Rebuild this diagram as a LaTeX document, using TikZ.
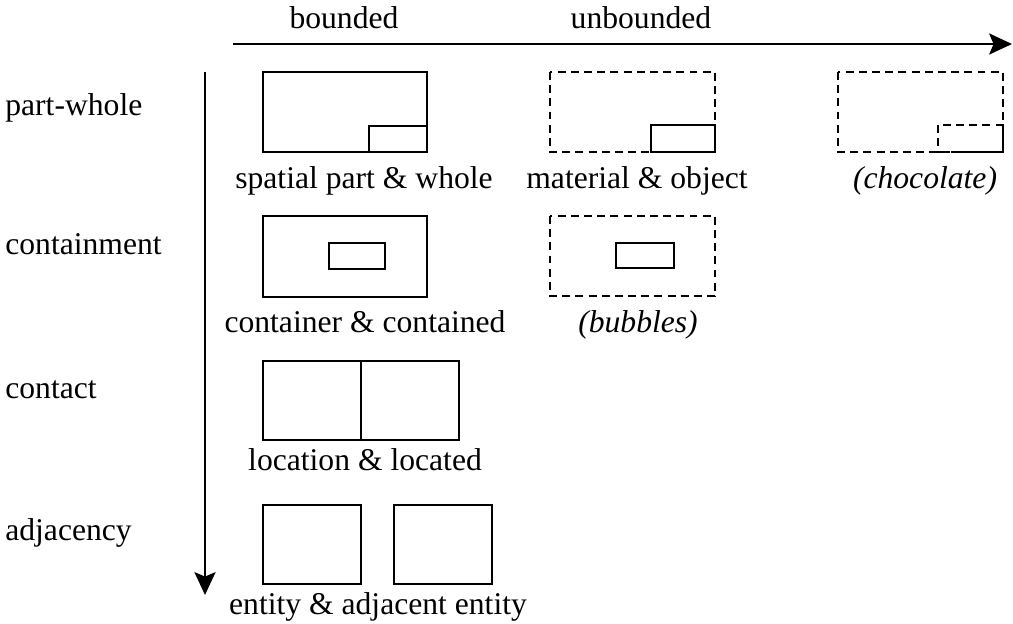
\documentclass[tikz,border=0pt]{standalone}
\usepackage{fontspec}
\setmainfont{Liberation Serif}
\usetikzlibrary{arrows.meta}

\tikzset{
    axis/.style={line width=1.3pt, -{Stealth[length=13pt, width=12pt, inset=2.5pt]}},
    box/.style={line width=1.4pt},
    dashbox/.style={line width=1.4pt, dash pattern=on 4.5pt off 3pt},
    lbl/.style={inner sep=0pt, anchor=base, font=\fontsize{18}{20}\selectfont},
    rowlbl/.style={inner sep=0pt, anchor=base west, font=\fontsize{18}{20}\selectfont},
}

\begin{document}
\begin{tikzpicture}[x=0.02cm, y=-0.02cm]
        \useasboundingbox (0,0) rectangle (1013,623);

        % axes
        \coordinate (hstart) at (233,44);
        \coordinate (hend) at (1012,44);
        \coordinate (vstart) at (205,72);
        \coordinate (vend) at (205,595);
        \draw[axis] (hstart) -- (hend);
        \draw[axis] (vstart) -- (vend);

        \node[lbl] (bnd) at (344,28) {bounded};
        \node[lbl] (unbnd) at (641,28) {unbounded};

        % row labels
        \node[rowlbl] (partwhole) at (5,115) {part-whole};
        \node[rowlbl] (contain) at (5,254) {containment};
        \node[rowlbl] (contact) at (5,398) {contact};
        \node[rowlbl] (adjacent) at (5,540) {adjacency};

        % part-whole
        \draw[box] (263,72) rectangle (427,152);
        \draw[box] (369,126) rectangle (427,152);
        \draw[dashbox] (550,72) rectangle (715,152);
        \draw[box] (651,125) rectangle (715,152);
        \draw[dashbox] (838,72) rectangle (1003,152);
        \draw[dashbox] (938,125) rectangle (1003,152);
        \node[lbl] (spatial) at (364,188) {spatial part \& whole};
        \node[lbl] (material) at (637,188) {material \& object};
        \node[lbl] (choc) at (925,188) {\itshape (chocolate)};

        % containment
        \draw[box] (263,216) rectangle (427,297);
        \draw[box] (329,243) rectangle (385,269);
        \draw[dashbox] (550,216) rectangle (715,296);
        \draw[box] (616,243) rectangle (674,268);
        \node[lbl] (container) at (365,332) {container \& contained};
        \node[lbl] (bubbles) at (638,332) {\itshape (bubbles)};

        % contact
        \draw[box] (263,361) rectangle (459,440);
        \draw[box] (361,361) -- (361,440);
        \node[lbl] (location) at (365,470) {location \& located};

        % adjacency
        \draw[box] (263,505) rectangle (361,584);
        \draw[box] (394,505) rectangle (492,584);
        \node[lbl] (entity) at (378,614) {entity \& adjacent entity};
    \end{tikzpicture}
\end{document}
